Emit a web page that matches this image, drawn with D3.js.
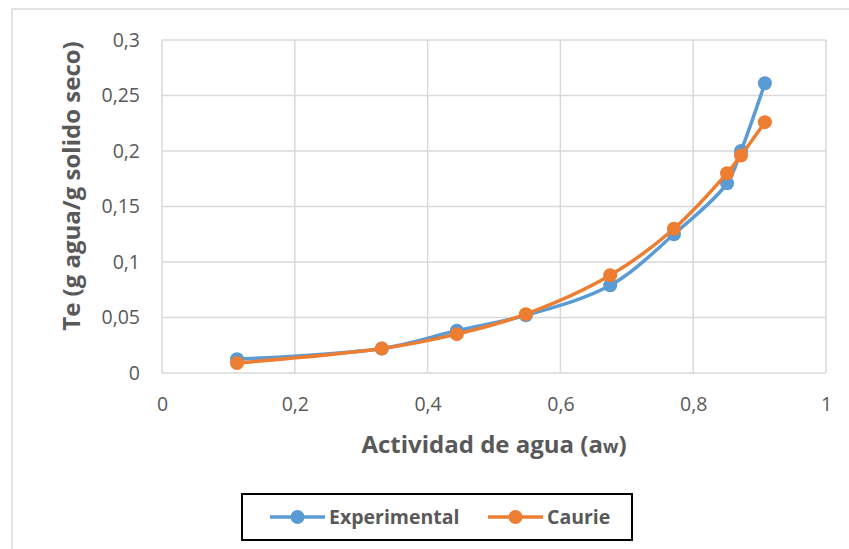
<html>
  <head>
    <meta charset="utf-8">
    <style>
      body { margin: 0; background: #fff; }
      .grid line { stroke: #d9d9d9; stroke-width: 1.5px; }
      .axis text { fill: #595959; font-family: "Open Sans", sans-serif; font-size: 19.5px; }
      .axis path, .axis line { display: none; }
      .title { fill: #595959; font-family: "Open Sans", sans-serif; font-weight: bold; font-size: 24px; }
      .leg { fill: #595959; font-family: "Open Sans", sans-serif; font-weight: bold; font-size: 19.5px; }
    </style>
  </head>
<body>
  <svg width="849" height="549"></svg>
  <script src="https://d3js.org/d3.v7.min.js"></script>
  <script>
    // data
    var aw = [0.113, 0.331, 0.444, 0.548, 0.675, 0.771, 0.851, 0.872, 0.908];
    var experimental = [0.0125, 0.022, 0.038, 0.052, 0.079, 0.125, 0.171, 0.200, 0.261];
    var caurie = [0.009, 0.022, 0.035, 0.053, 0.088, 0.130, 0.180, 0.196, 0.226];
    var xTicks = [0, 0.2, 0.4, 0.6, 0.8, 1];
    var yTicks = [0, 0.05, 0.1, 0.15, 0.2, 0.25, 0.3];
    var seriesNames = ["Experimental", "Caurie"];
    var colors = ["#5b9bd5", "#ed7d31"];

    var svg = d3.select("svg");
    var margin = {top: 40, left: 162, right: 23, bottom: 176};
    var width = 849 - margin.left - margin.right;
    var height = 549 - margin.top - margin.bottom;

    // outer chart frame (clipped by the window on the right/bottom)
    svg.append("rect")
      .attr("x", 12).attr("y", 9).attr("width", 860).attr("height", 560)
      .attr("fill", "none").attr("stroke", "#d9d9d9").attr("stroke-width", 1.5);

    var g = svg.append("g").attr("transform", "translate(" + margin.left + "," + margin.top + ")");

    var x = d3.scaleLinear().domain([0, 1]).range([0, width]);
    var y = d3.scaleLinear().domain([0, 0.3]).range([height, 0]);
    var fmt = function(d) { return String(d).replace(".", ","); };

    g.append("g").attr("class", "grid")
      .selectAll("line").data(yTicks).enter().append("line")
      .attr("x1", 0).attr("x2", width)
      .attr("y1", function(d) { return y(d); }).attr("y2", function(d) { return y(d); });
    g.append("g").attr("class", "grid")
      .selectAll("line").data(xTicks).enter().append("line")
      .attr("y1", 0).attr("y2", height)
      .attr("x1", function(d) { return x(d); }).attr("x2", function(d) { return x(d); });

    g.append("g")
      .attr("class", "axis")
      .attr("transform", "translate(0," + height + ")")
      .call(d3.axisBottom(x).tickValues(xTicks).tickFormat(fmt).tickSize(0).tickPadding(24));

    g.append("g")
      .attr("class", "axis")
      .call(d3.axisLeft(y).tickValues(yTicks).tickFormat(fmt).tickSize(0).tickPadding(22));

    var line = d3.line()
      .x(function(d) { return x(d[0]); })
      .y(function(d) { return y(d[1]); })
      .curve(d3.curveCatmullRom.alpha(0.5));

    [experimental, caurie].forEach(function(vals, i) {
      var pts = aw.map(function(a, j) { return [a, vals[j]]; });
      g.append("path")
        .datum(pts)
        .attr("fill", "none")
        .attr("stroke", colors[i])
        .attr("stroke-width", 3.5)
        .attr("d", line);
      g.selectAll(".pt" + i).data(pts).enter().append("circle")
        .attr("cx", function(d) { return x(d[0]); })
        .attr("cy", function(d) { return y(d[1]); })
        .attr("r", 7)
        .attr("fill", colors[i]);
    });

    // axis titles
    var xt = svg.append("text").attr("class", "title")
      .attr("x", 494).attr("y", 453)
      .attr("text-anchor", "middle");
    xt.append("tspan").text("Actividad de agua (a");
    xt.append("tspan").attr("font-size", 18).text("w");
    xt.append("tspan").text(")");

    svg.append("text").attr("class", "title")
      .attr("transform", "translate(80,186) rotate(-90)")
      .attr("text-anchor", "middle")
      .text("Te (g agua/g solido seco)");

    // legend
    svg.append("rect")
      .attr("x", 242).attr("y", 494).attr("width", 390).attr("height", 46)
      .attr("fill", "none").attr("stroke", "#000").attr("stroke-width", 2);
    var legX = [270, 488];
    seriesNames.forEach(function(name, i) {
      var lg = svg.append("g").attr("transform", "translate(" + legX[i] + ",517)");
      lg.append("line").attr("x1", 0).attr("x2", 55)
        .attr("stroke", colors[i]).attr("stroke-width", 3.5);
      lg.append("circle").attr("cx", 27.5).attr("r", 7).attr("fill", colors[i]);
      lg.append("text").attr("class", "leg").attr("x", 59).attr("dy", "0.35em").text(name);
    });
  </script>
  </body>
</html>
